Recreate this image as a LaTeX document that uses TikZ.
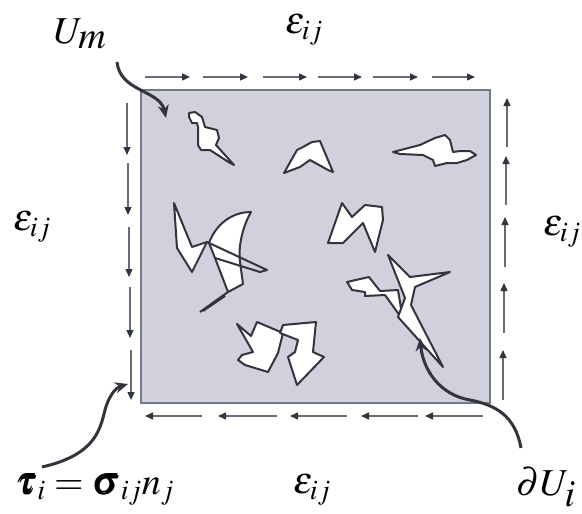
\documentclass[tikz,border=0pt]{standalone}
\usepackage{amsmath}
\usepackage{mathptmx}
\usepackage{bm}
\usetikzlibrary{arrows.meta}
\definecolor{boxfill}{HTML}{D1D1DD}
\definecolor{boxedge}{HTML}{6F7B89}
\definecolor{ink}{HTML}{34343F}
\definecolor{thin}{HTML}{6A6A78}
\begin{document}
\begin{tikzpicture}[x=1pt,y=-1pt,
  lbl/.style={font=\fontsize{38}{44}\selectfont, inner sep=0pt},
  tract/.style={draw=thin, line width=1.3pt, -{Triangle[length=8pt,width=7pt,color=ink]}},
  bigarrow/.style={draw=ink, line width=3pt, -{Stealth[length=13pt,width=11pt]}},
  incl/.style={draw=ink, fill=white, line width=2pt, line join=round},
  inclline/.style={draw=ink, line width=2pt, line join=round}]
\useasboundingbox (0,0) rectangle (582,514);
% matrix box
\draw[fill=boxfill, draw=boxedge, line width=2.5pt] (141,90) rectangle (490,403);
% traction arrows
\foreach \a/\b in {145/190,203/248,263/307,318/362,373/418,432/475}
  \draw[tract] (\a,77) -- (\b,77);
\foreach \a/\b/\x in {103/155/127,163/215/128,227/277/129,287/338/130,350/400/131}
  \draw[tract] (\x,\a) -- (\x,\b);
\foreach \a/\b/\x in {147/98/507,205/156/506,267/217/505,333/283/504,400/350/503}
  \draw[tract] (\x,\a) -- (\x,\b);
\foreach \a/\b in {202/145,277/218,347/290,418/361,483/425}
  \draw[tract] (\a,416) -- (\b,416);
% inclusions
\draw[incl] (189,113) -- (195,112) -- (202,117) -- (205,127) -- (217,130) -- (219,138) -- (216,145) -- (234,165) -- (230,163) -- (210,150) -- (201,150) -- (198,145) -- (198,127) -- (197,123) -- (192,123) -- (189,117) -- cycle;
\draw[incl] (284,173) -- (297,150) -- (303,147) -- (312,142) -- (320,141) -- (333,172) -- (328,170) -- (310,160) -- (300,167) -- cycle;
\draw[incl] (393,152) -- (420,145) -- (435,138) -- (445,135) -- (450,140) -- (453,152) -- (460,151) -- (470,151) -- (476,155) -- (467,160) -- (457,163) -- (447,163) -- (435,166) -- (433,160) -- (423,155) -- (400,154) -- cycle;
\draw[incl] (328,243) -- (342,203) -- (352,217) -- (365,205) -- (382,207) -- (383,220) -- (375,252) -- (363,223) -- (353,233) -- (343,243) -- cycle;
% crossed inclusion
\draw[incl] (174,203) -- (192,247) -- (207,242) -- (192,272) -- (177,248) -- cycle;
\draw[incl] (209,243) .. controls (216,224) and (232,212) .. (251,212) .. controls (243,226) and (238,245) .. (240,262) -- (243,284) -- (228,292) -- (215,258) -- cycle;
\draw[inclline] (207,242) -- (267,270) -- (260,272) -- (215,258);
\draw[inclline] (228,292) -- (200,312) (225,296) -- (203,311);
% star-like inclusion
\draw[incl] (347,282) -- (369,277) -- (380,291) -- (398,290) -- (403,320) -- (385,295) -- (365,296) -- (365,292) -- (352,290) -- cycle;
\draw[incl] (388,255) -- (410,277) -- (450,272) -- (415,287) -- (411,305) -- (443,367) -- (398,317) -- (405,298) -- cycle;
% bottom inclusion
\draw[incl] (237,324) -- (251,336) -- (257,322) -- (283,333) -- (278,353) -- (268,372) -- (245,365) -- (238,360) -- (242,355) -- (253,352) -- cycle;
\draw[incl] (280,333) -- (283,325) -- (316,322) -- (313,352) -- (324,357) -- (297,385) -- (288,357) -- (295,352) -- (298,340) -- cycle;
% labels
\node[lbl] (um) at (80,34) {$U_{\textstyle m}$};
\node[lbl] (et) at (304,30) {$\varepsilon_{ij}$};
\node[lbl] (el) at (32,227) {$\varepsilon_{ij}$};
\node[lbl] (er) at (562,232) {$\varepsilon_{ij}$};
\node[lbl] (eb) at (312,490) {$\varepsilon_{ij}$};
\node[lbl] (tau) at (95,490) {$\bm{\tau}_i=\bm{\sigma}_{ij}n_j$};
\node[lbl] (du) at (546,487) {$\partial U_{\textstyle i}$};
% pointer arrows
\coordinate (umS) at (117,62);
\coordinate (umE) at (166,118);
\coordinate (tauS) at (42,467);
\coordinate (tauE) at (128,384);
\coordinate (duS) at (521,448);
\coordinate (duE) at (420,338);
\draw[bigarrow] (umS) .. controls (120,92) and (160,90) .. (umE);
\draw[bigarrow] (tauS) .. controls (95,455) and (100,430) .. (105,410) .. controls (110,392) and (118,387) .. (tauE);
\draw[bigarrow] (duS) .. controls (515,415) and (495,405) .. (470,400) .. controls (440,395) and (423,370) .. (duE);
\end{tikzpicture}
\end{document}
